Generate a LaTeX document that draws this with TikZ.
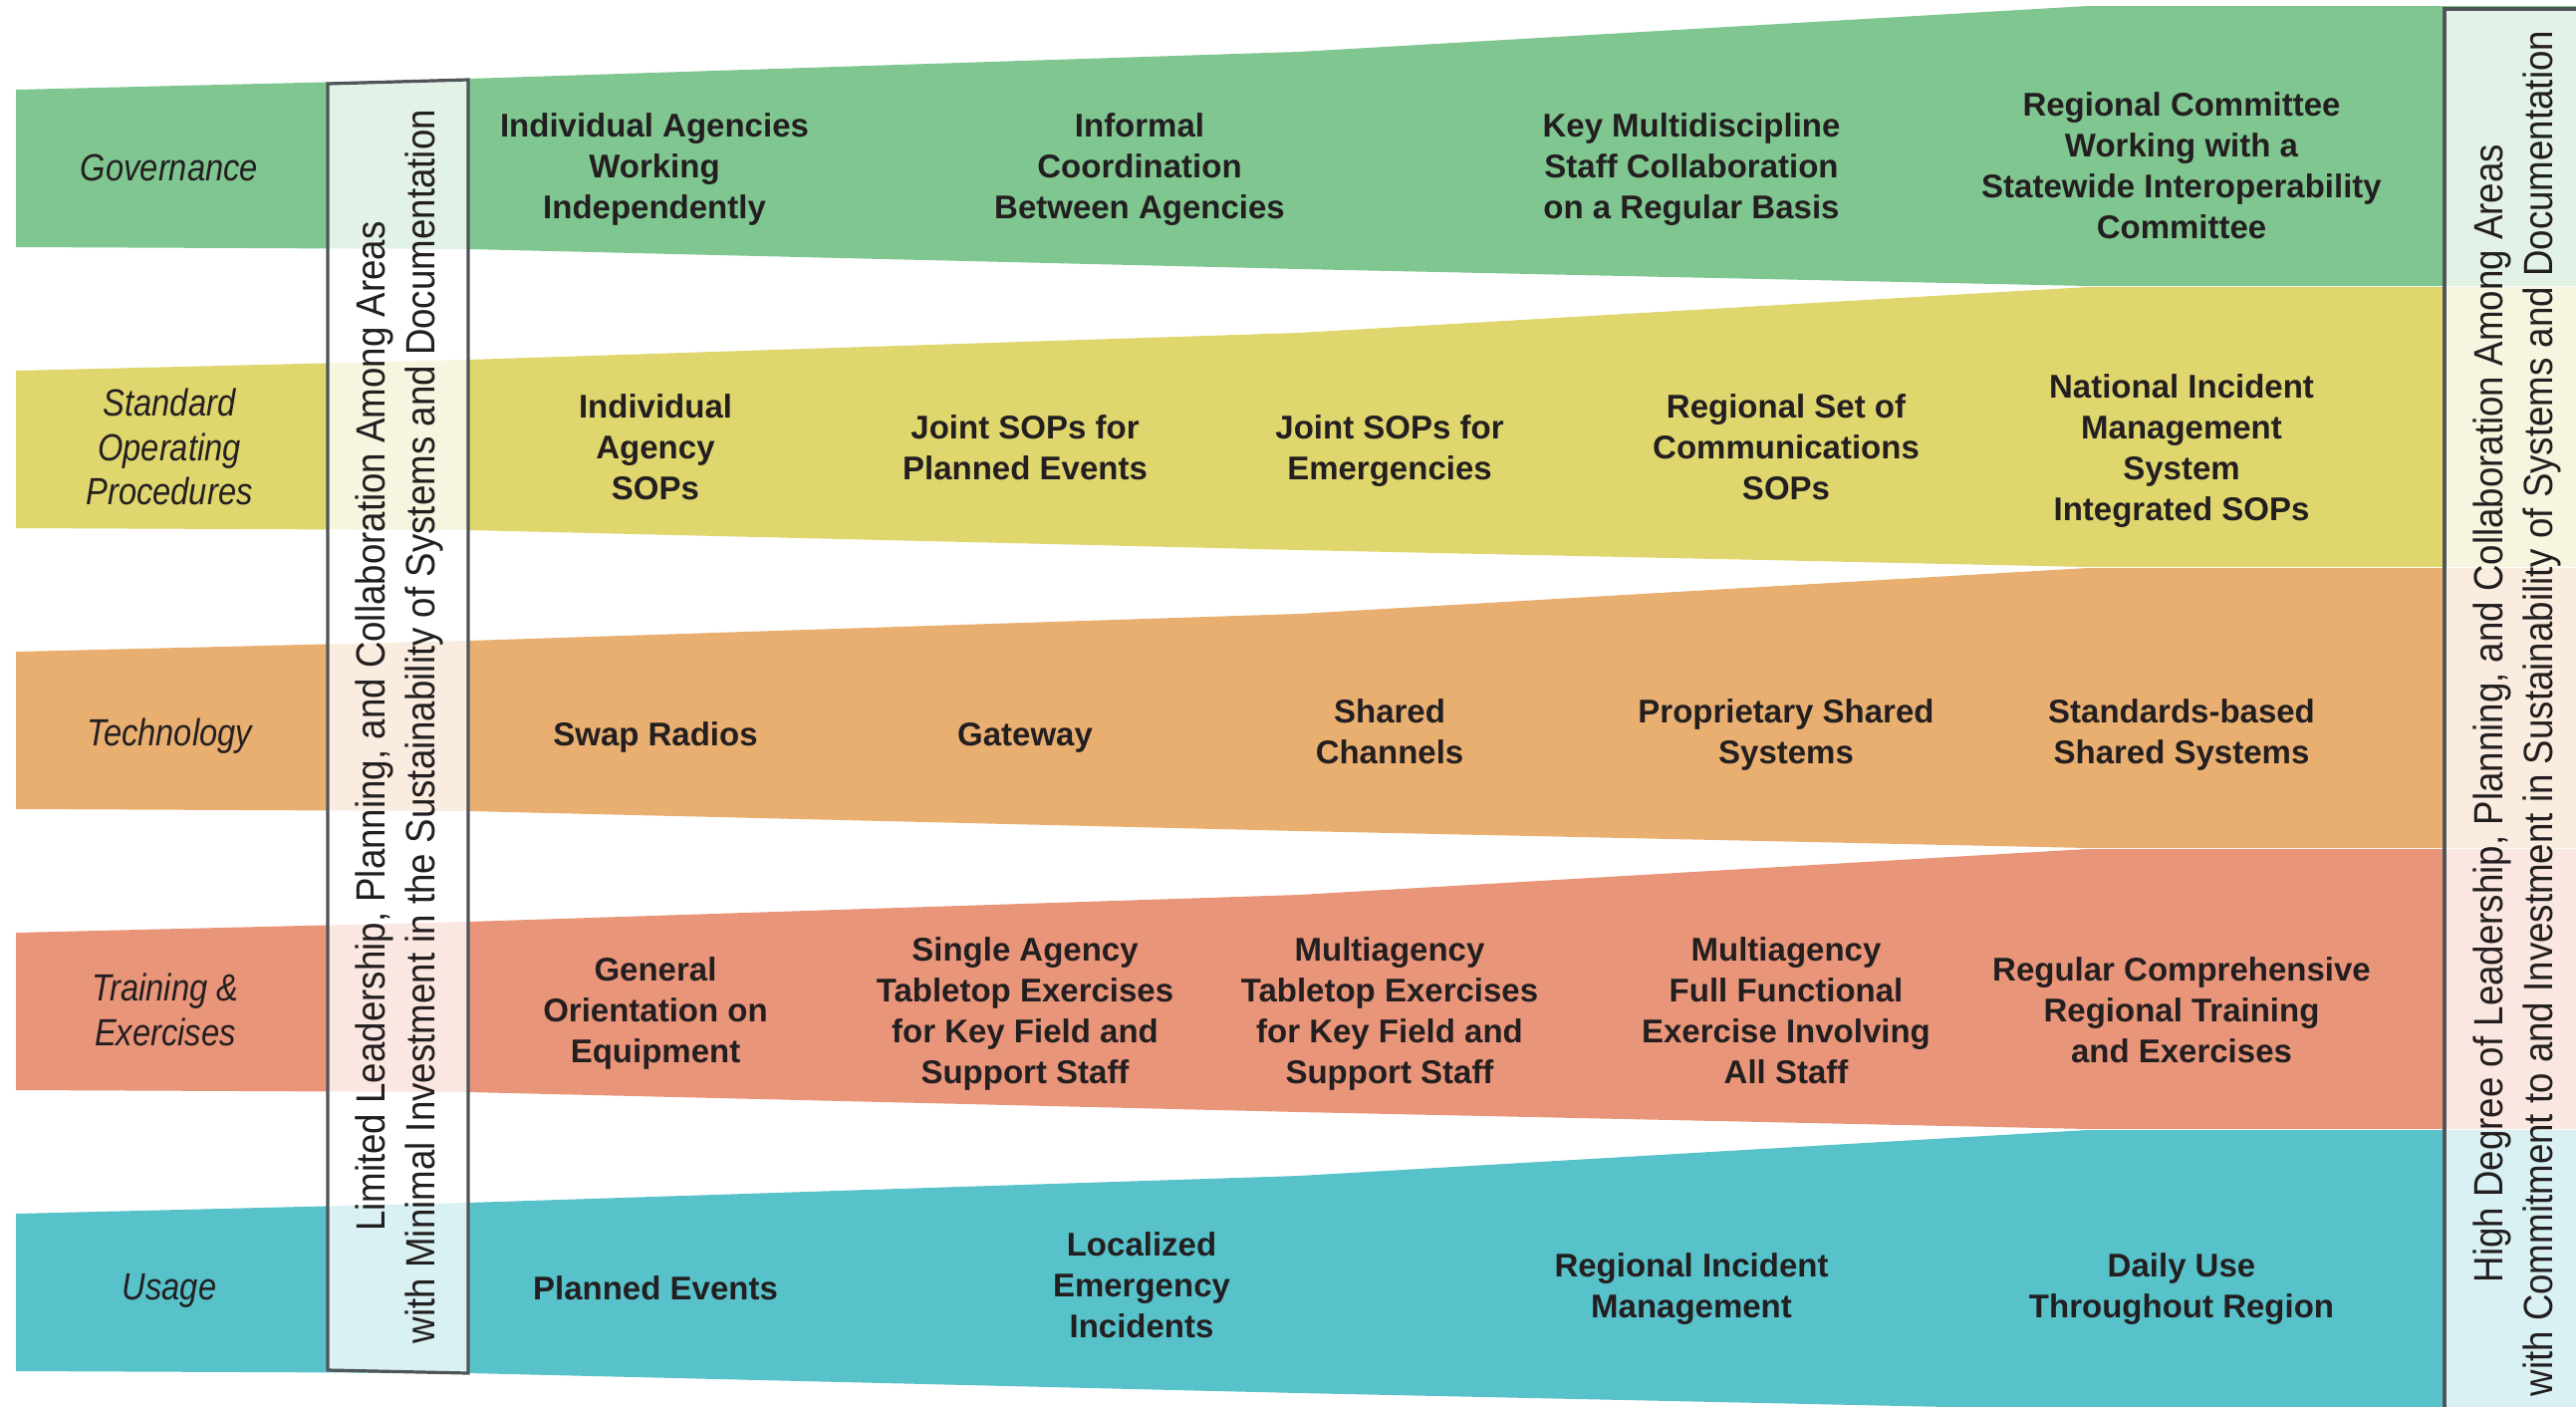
\documentclass[tikz,border=0pt]{standalone}
\usepackage{fontspec}
\setmainfont{Liberation Sans}
\newfontfamily\labfam[FakeStretch=0.86]{Liberation Sans}
\newfontfamily\vfam[FakeStretch=0.895]{Liberation Sans}
\definecolor{bgreen}{HTML}{80C690}
\definecolor{byellow}{HTML}{DFD66E}
\definecolor{borange}{HTML}{E9AF70}
\definecolor{bsalmon}{HTML}{E99579}
\definecolor{bteal}{HTML}{58C2CB}
\definecolor{txt}{HTML}{231F20}
\definecolor{boxline}{HTML}{505559}
\newcommand\cellfont{\bfseries\fontsize{33}{41}\selectfont}
\newcommand\labfont{\labfam\itshape\fontsize{38}{44.5}\selectfont}
\newcommand\vfont{\vfam\fontsize{41}{50}\selectfont}
\tikzset{
  cell/.style={align=center, text=txt, font=\cellfont, inner sep=0pt,
    execute at begin node=\strut, execute at end node=\strut},
  lab/.style={align=center, text=txt, font=\labfont, inner sep=0pt,
    execute at begin node=\strut, execute at end node=\strut},
  vtxt/.style={align=center, text=txt, font=\vfont, inner sep=0pt, rotate=90},
  sidebox/.style={draw=boxline, line width=3.2pt, fill=white, fill opacity=0.78, line join=miter},
}
\begin{document}
\begin{tikzpicture}[x=1pt,y=-1pt]
\useasboundingbox (0,0) rectangle (2586,1411);
\clip (0,0) rectangle (2586,1411);
% bands
\foreach \k/\c in {0/bgreen,1/byellow,2/borange,3/bsalmon,4/bteal}{
  \fill[\c, shift={(0,282*\k)}] (16,90) -- (470,79) -- (1304,52) -- (2096,6) -- (2620,6)
     -- (2620,287) -- (2096,287) -- (1304,270) -- (470,250) -- (16,248) -- cycle;
}
% side boxes
\draw[sidebox] (329,84) -- (470,80) -- (470,1378) -- (329,1375) -- cycle;
\draw[sidebox] (2630,9) -- (2454,9) -- (2454,1440) -- (2630,1440);
\node[vtxt] (lefttext) at (401,729) {Limited Leadership, Planning, and Collaboration Among Areas\\with Minimal Investment in the Sustainability of Systems and Documentation};
\node[vtxt] (righttext) at (2527,716) {High Degree of Leadership, Planning, and Collaboration Among Areas\\with Commitment to and Investment in Sustainability of Systems and Documentation};
% row labels
\node[lab] (lgov) at (170,173) {Governance};
\node[lab] (lsop) at (170,455) {Standard\\Operating\\Procedures};
\node[lab] (ltech) at (170,740) {Technology};
\node[lab] (ltrain) at (166,1020) {Training \&\\Exercises};
\node[lab] (luse) at (170,1296) {Usage};
% governance
\node[cell] (g1) at (657,173) {Individual Agencies\\Working\\Independently};
\node[cell] (g2) at (1144,173) {Informal\\Coordination\\Between Agencies};
\node[cell] (g3) at (1698,173) {Key Multidiscipline\\Staff Collaboration\\on a Regular Basis};
\node[cell] (g4) at (2190,172) {Regional Committee\\Working with a\\Statewide Interoperability\\Committee};
% SOPs
\node[cell] (s1) at (658,455) {Individual\\Agency\\SOPs};
\node[cell] (s2) at (1029,455) {Joint SOPs for\\Planned Events};
\node[cell] (s3) at (1395,455) {Joint SOPs for\\Emergencies};
\node[cell] (s4) at (1793,455) {Regional Set of\\Communications\\SOPs};
\node[cell] (s5) at (2190,455) {National Incident\\Management\\System\\Integrated SOPs};
% technology
\node[cell] (t1) at (658,740) {Swap Radios};
\node[cell] (t2) at (1029,740) {Gateway};
\node[cell] (t3) at (1395,740) {Shared\\Channels};
\node[cell] (t4) at (1793,740) {Proprietary Shared\\Systems};
\node[cell] (t5) at (2190,740) {Standards-based\\Shared Systems};
% training
\node[cell] (e1) at (658,1020) {General\\Orientation on\\Equipment};
\node[cell] (e2) at (1029,1020) {Single Agency\\Tabletop Exercises\\for Key Field and\\Support Staff};
\node[cell] (e3) at (1395,1020) {Multiagency\\Tabletop Exercises\\for Key Field and\\Support Staff};
\node[cell] (e4) at (1793,1020) {Multiagency\\Full Functional\\Exercise Involving\\All Staff};
\node[cell] (e5) at (2190,1020) {Regular Comprehensive\\Regional Training\\and Exercises};
% usage
\node[cell] (u1) at (658,1296) {Planned Events};
\node[cell] (u2) at (1146,1296) {Localized\\Emergency\\Incidents};
\node[cell] (u3) at (1698,1296) {Regional Incident\\Management};
\node[cell] (u4) at (2190,1296) {Daily Use\\Throughout Region};
\end{tikzpicture}
\end{document}
